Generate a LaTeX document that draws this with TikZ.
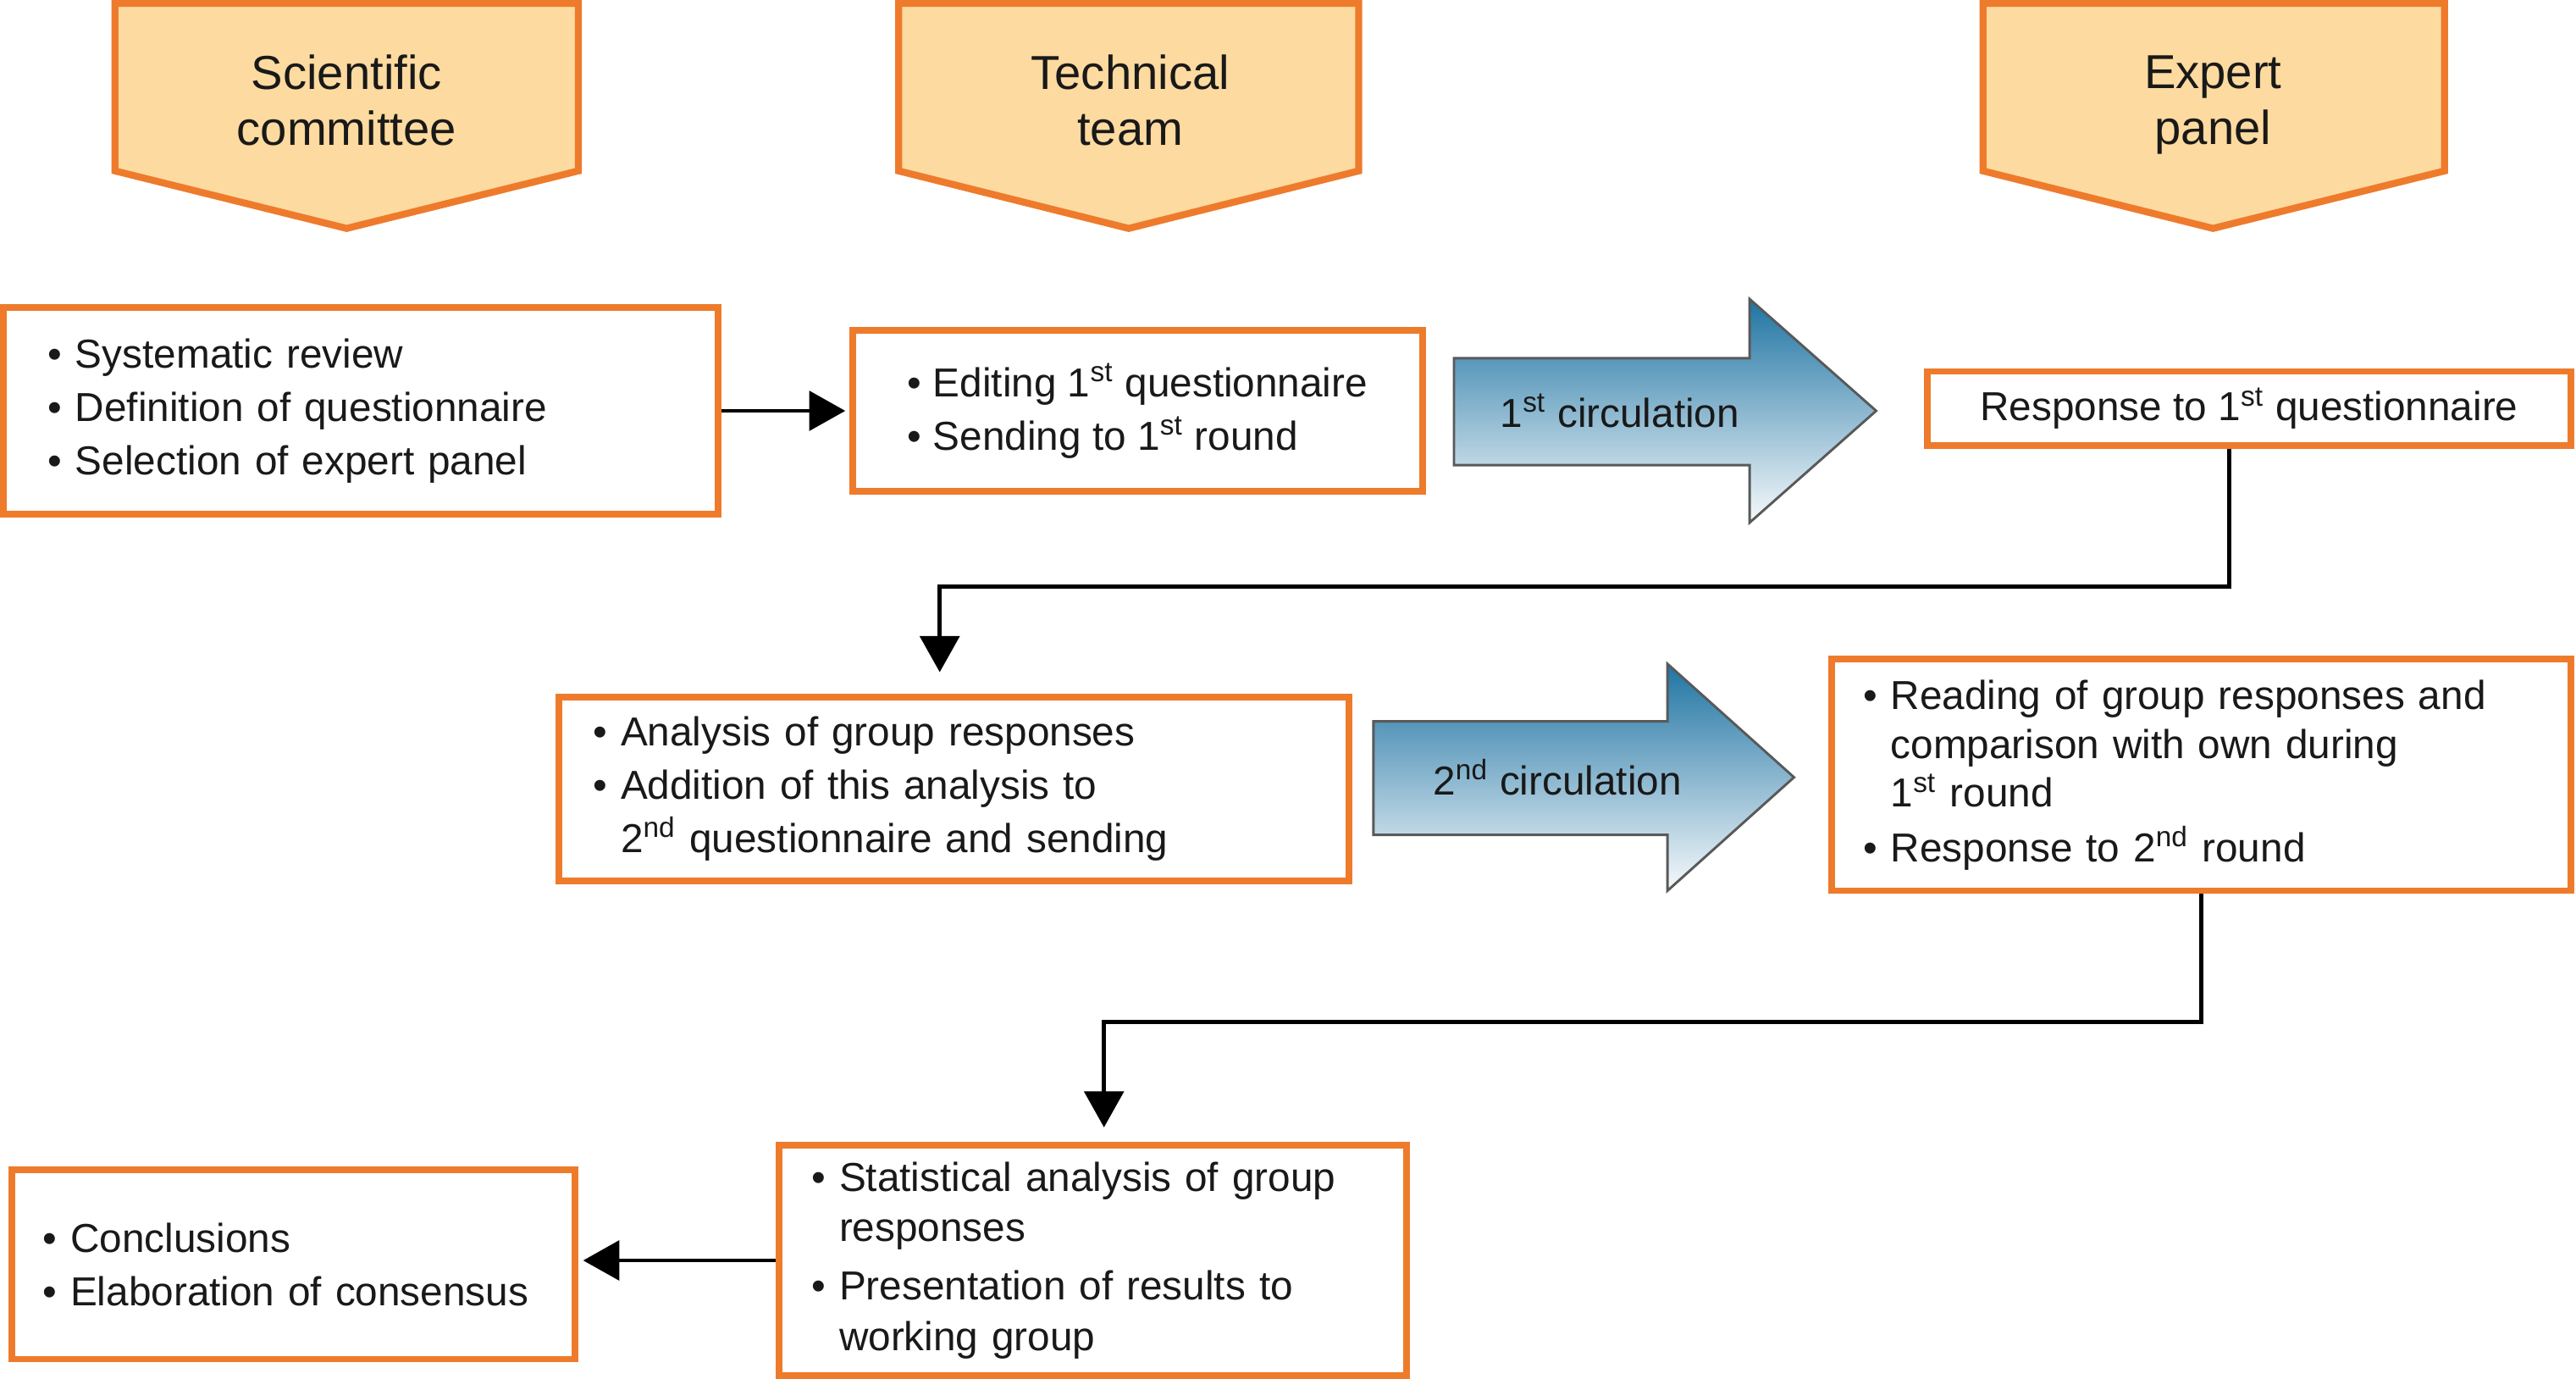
\documentclass[tikz,border=0pt]{standalone}
\usepackage{fontspec}
\setmainfont{Liberation Sans}
\usepackage{tikz}
\usetikzlibrary{arrows.meta}

\definecolor{boxorange}{HTML}{EE7B2C}
\definecolor{headfill}{HTML}{FDDA9F}
\definecolor{circtop}{HTML}{1F74A3}
\definecolor{circmid}{HTML}{AABFD0}

\newcommand{\itemdot}{\textbullet\ }
\newcommand{\itemgap}{\hphantom{\textbullet\ }}

\tikzset{
  headbox/.style={draw=boxorange, line width=0.085cm, fill=headfill},
  headtext/.style={font=\fontsize{16.5}{19.5}\selectfont, align=center, text=black!90},
  listbox/.style={draw=boxorange, line width=0.08cm, fill=white, align=left, inner ysep=0pt,
    text=black!90, font=\fontsize{14}{18.5}\selectfont},
  circarrow/.style={draw=black!65, line width=0.03cm, top color=circtop, middle color=circmid,
    bottom color=white!96!circtop},
  circtext/.style={font=\fontsize{14}{18.5}\selectfont, text=black!90},
  link/.style={line width=0.05cm, -{Triangle[length=0.44cm,width=0.48cm]}},
}

\begin{document}
\begin{tikzpicture}[x=0.02cm, y=-0.02cm]
    \useasboundingbox (0,0) rectangle (1568,839);
    % the three groups
    \draw[headbox] (70,2) -- (352,2) -- (352,104) -- (211,139) -- (70,104) -- cycle;
    \node[headtext] (sc) at (211,61) {Scientific\\committee};
    \draw[headbox] (547,2) -- (827,2) -- (827,104) -- (687,139) -- (547,104) -- cycle;
    \node[headtext] (tt) at (688,61) {Technical\\team};
    \draw[headbox] (1207,2) -- (1488,2) -- (1488,104) -- (1347,139) -- (1207,104) -- cycle;
    \node[headtext] (ep) at (1347,64) {Expert\\panel};

    % steps
    \node[listbox, text width=7.62cm, inner xsep=0.54cm, minimum height=2.52cm] (review) at (219.5,250)
        {\itemdot Systematic review\\ \itemdot Definition of questionnaire\\ \itemdot Selection of expert panel};
    \node[listbox, minimum width=6.94cm, minimum height=1.96cm] (editing) at (692.5,250)
        {\itemdot Editing 1\textsuperscript{st} questionnaire\\ \itemdot Sending to 1\textsuperscript{st} round};
    \node[listbox, align=center, minimum width=7.84cm, minimum height=0.90cm] (resp) at (1369,248.5)
        {Response to 1\textsuperscript{st} questionnaire};
    \node[listbox, text width=8.78cm, inner xsep=0.42cm, minimum height=2.24cm] (analysis) at (580.5,480)
        {\itemdot Analysis of group responses\\ \itemdot Addition of this analysis to\\
         \itemgap 2\textsuperscript{nd} questionnaire and sending};
    \node[listbox, text width=8.24cm, inner xsep=0.38cm, minimum height=2.82cm,
        font=\fontsize{14}{17}\selectfont] (reading) at (1340,471.5)
        {\itemdot Reading of group responses and\\ \itemgap comparison with own during\\
         \itemgap 1\textsuperscript{st} round\\[1.8pt] \itemdot Response to 2\textsuperscript{nd} round};
    \node[listbox, text width=6.84cm, inner xsep=0.40cm, minimum height=2.80cm,
        font=\fontsize{14}{17.5}\selectfont] (stat) at (665,767)
        {\itemdot Statistical analysis of group\\ \itemgap responses\\[2.8pt]
         \itemdot Presentation of results to\\ \itemgap working group};
    \node[listbox, text width=6.10cm, inner xsep=0.38cm, minimum height=2.30cm] (concl) at (178.5,769.5)
        {\itemdot Conclusions\\ \itemdot Elaboration of consensus};

    % circulations
    \draw[circarrow] (885,218) -- (1065,218) -- (1065,182) -- (1142,250) -- (1065,318) -- (1065,283) -- (885,283) -- cycle;
    \node[circtext] (circ1) at (986,250) {1\textsuperscript{st} circulation};
    \draw[circarrow] (836,439) -- (1015,439) -- (1015,404) -- (1092,473) -- (1015,542) -- (1015,508) -- (836,508) -- cycle;
    \node[circtext] (circ2) at (948,473) {2\textsuperscript{nd} circulation};

    % connectors
    \draw[link, shorten >=0.05cm] (review.east) -- (editing.west);
    \draw[link, shorten >=0.26cm] ([xshift=-0.24cm]resp.south) -- ++(0,84) -| ([xshift=-0.17cm]analysis.north);
    \draw[link, shorten >=0.18cm] (reading.south) -- ++(0,78) -| ([xshift=0.14cm]stat.north);
    \draw[link, shorten >=0.06cm] (stat.west) -- (stat.west -| concl.east);
\end{tikzpicture}
\end{document}
